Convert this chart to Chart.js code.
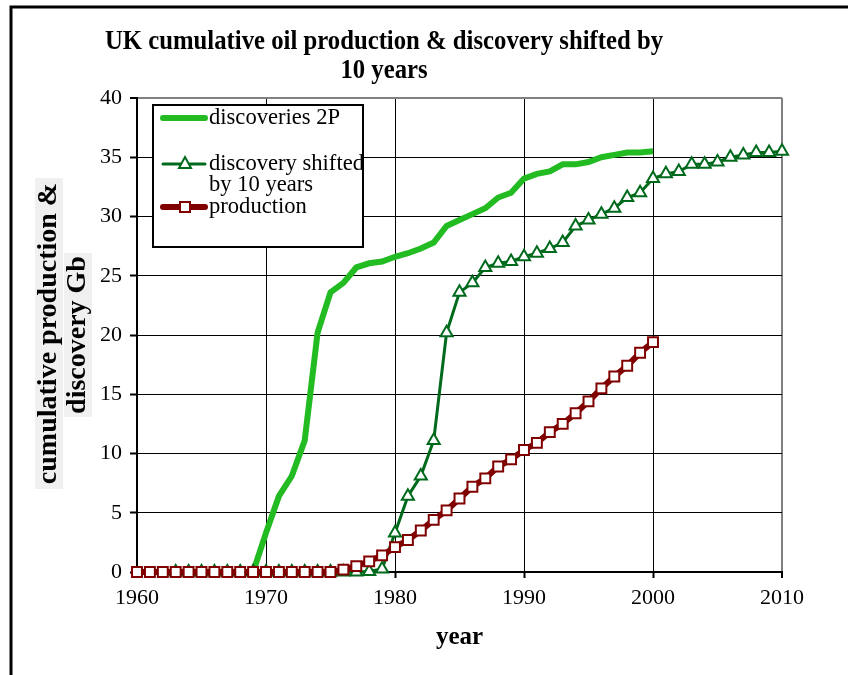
<!DOCTYPE html>
<html>
<head>
<meta charset="utf-8">
<title>UK cumulative oil production & discovery</title>
<script src="https://cdn.jsdelivr.net/npm/chart.js@4.4.0/dist/chart.umd.min.js"></script>
<style>
  body { margin: 0; background: #fff; }
</style>
</head>
<body>
<canvas id="oilChart" width="848" height="675"></canvas>
<script>
// cumulative values in Gb, one value per year starting at the given year
const productionStart = 1960;
const production = [
  0, 0, 0, 0, 0, 0, 0, 0, 0, 0, 0, 0, 0, 0, 0, 0,
  0.2, 0.5, 0.9, 1.4,
  2.1, 2.7, 3.5, 4.4, 5.2, 6.2, 7.2, 7.9, 8.9, 9.5,
  10.3, 10.9, 11.8, 12.5, 13.4, 14.4, 15.5, 16.5, 17.4, 18.5,
  19.4
];

const discoveryStart = 1969;
const discoveries2P = [
  0,
  3.3, 6.4, 8.1, 11.1, 20.2, 23.6, 24.4, 25.7, 26.05, 26.2,
  26.6, 26.9, 27.3, 27.8, 29.2, 29.7, 30.2, 30.7, 31.6, 32.0,
  33.2, 33.6, 33.8, 34.4, 34.4, 34.6, 35.0, 35.2, 35.4, 35.4,
  35.5
];

const shiftedStart = 1963;
const discoveryShifted = [
  0, 0, 0, 0, 0, 0, 0, 0, 0, 0, 0, 0, 0, 0, 0, 0.05, 0.25,
  3.3, 6.4, 8.1, 11.1, 20.2, 23.6, 24.4, 25.7, 26.05, 26.2,
  26.6, 26.9, 27.3, 27.8, 29.2, 29.7, 30.2, 30.7, 31.6, 32.0,
  33.2, 33.6, 33.8, 34.4, 34.4, 34.6, 35.0, 35.2, 35.4, 35.4,
  35.5
];

const seriesNames = ['discoveries 2P', 'discovery shifted', 'by 10 years', 'production'];
const titleLines = ['UK cumulative oil production & discovery shifted by', '10 years'];
const yTitleLines = ['cumulative production &', 'discovery Gb'];

const LIGHT_GREEN = '#22bb22';
const DARK_GREEN = '#006a1c';
const DARK_RED = '#800000';

const toPoints = (start, values) => values.map((v, i) => ({ x: start + i, y: v }));

const SERIF = "'Liberation Serif', 'Times New Roman', serif";
Chart.defaults.font.family = SERIF;
Chart.defaults.color = '#000';

// draws the frame, title, y axis label and the boxed legend
const decorPlugin = {
  id: 'decor',
  beforeDraw(chart) {
    const ctx = chart.ctx;
    ctx.save();
    ctx.fillStyle = '#fff';
    ctx.fillRect(0, 0, chart.width, chart.height);

    ctx.strokeStyle = '#000';
    ctx.lineWidth = 3;
    ctx.beginPath();
    ctx.moveTo(11, chart.height);
    ctx.lineTo(11, 7);
    ctx.lineTo(chart.width, 7);
    ctx.stroke();

    // title, slightly condensed like the original
    ctx.fillStyle = '#000';
    ctx.font = 'bold 27px ' + SERIF;
    ctx.textAlign = 'center';
    ctx.textBaseline = 'alphabetic';
    const sx = 558 / ctx.measureText(titleLines[0]).width;
    [[titleLines[0], 49], [titleLines[1], 78]].forEach(([txt, y]) => {
      ctx.save();
      ctx.translate(384, y);
      ctx.scale(sx, 1);
      ctx.fillText(txt, 0, 0);
      ctx.restore();
    });

    // rotated y title with grey backing
    ctx.font = 'bold 28px ' + SERIF;
    [[yTitleLines[0], 56, 333.5, 311], [yTitleLines[1], 85, 335, 164]].forEach(([txt, x, y, len]) => {
      ctx.save();
      ctx.translate(x, y);
      ctx.rotate(-Math.PI / 2);
      ctx.fillStyle = '#f0f0f0';
      ctx.fillRect(-len / 2, -21, len, 28);
      ctx.fillStyle = '#000';
      ctx.fillText(txt, 0, 0);
      ctx.restore();
    });
    ctx.restore();
  },
  afterDraw(chart) {
    const ctx = chart.ctx;
    const box = { x: 153, y: 105, w: 210, h: 142 };
    ctx.save();
    ctx.fillStyle = '#fff';
    ctx.fillRect(box.x, box.y, box.w, box.h);
    ctx.strokeStyle = '#000';
    ctx.lineWidth = 2;
    ctx.strokeRect(box.x, box.y, box.w, box.h);

    const sample = (y, color, width) => {
      ctx.strokeStyle = color;
      ctx.lineWidth = width;
      ctx.lineCap = 'round';
      ctx.beginPath();
      ctx.moveTo(163, y);
      ctx.lineTo(205, y);
      ctx.stroke();
    };
    sample(118, LIGHT_GREEN, 6);
    sample(164, DARK_GREEN, 3);
    ctx.lineCap = 'butt';
    ctx.fillStyle = '#fff';
    ctx.strokeStyle = DARK_GREEN;
    ctx.lineWidth = 2;
    ctx.beginPath();
    ctx.moveTo(185, 157);
    ctx.lineTo(191, 168);
    ctx.lineTo(179, 168);
    ctx.closePath();
    ctx.fill();
    ctx.stroke();
    sample(207, DARK_RED, 6);
    ctx.lineCap = 'butt';
    ctx.fillStyle = '#fff';
    ctx.strokeStyle = DARK_RED;
    ctx.lineWidth = 2;
    ctx.fillRect(180, 202, 10, 10);
    ctx.strokeRect(180, 202, 10, 10);

    ctx.beginPath();
    ctx.rect(box.x + 1, box.y + 1, box.w - 2, box.h - 2);
    ctx.clip();
    ctx.fillStyle = '#000';
    ctx.font = '22.6px ' + SERIF;
    ctx.textAlign = 'left';
    ctx.textBaseline = 'alphabetic';
    ctx.fillText(seriesNames[0], 209, 124);
    ctx.fillText(seriesNames[1], 209, 170);
    ctx.fillText(seriesNames[2], 209, 191);
    ctx.fillText(seriesNames[3], 209, 213);
    ctx.restore();
  }
};

const edgeColor = (edge) => (c) => (c.tick && c.tick.value === edge ? '#808080' : '#000');
const edgeWidth = (edge) => (c) => (c.tick && c.tick.value === edge ? 2 : 1);

new Chart(document.getElementById('oilChart'), {
  type: 'line',
  data: {
    datasets: [
      {
        label: seriesNames[0],
        data: toPoints(discoveryStart, discoveries2P),
        borderColor: LIGHT_GREEN,
        borderWidth: 6,
        pointRadius: 0,
        tension: 0,
        clip: false,
        order: 3
      },
      {
        label: seriesNames[1] + ' ' + seriesNames[2],
        data: toPoints(shiftedStart, discoveryShifted),
        borderColor: DARK_GREEN,
        borderWidth: 3,
        pointStyle: 'triangle',
        pointRadius: 7,
        pointBackgroundColor: '#fff',
        pointBorderColor: DARK_GREEN,
        pointBorderWidth: 2,
        tension: 0,
        clip: false,
        order: 2
      },
      {
        label: seriesNames[3],
        data: toPoints(productionStart, production),
        borderColor: DARK_RED,
        borderWidth: 6,
        pointStyle: 'rect',
        pointRadius: 7,
        pointBackgroundColor: '#fff',
        pointBorderColor: DARK_RED,
        pointBorderWidth: 2,
        tension: 0,
        clip: false,
        order: 1
      }
    ]
  },
  options: {
    responsive: false,
    devicePixelRatio: 1,
    animation: false,
    events: [],
    layout: { padding: { left: 0, right: 66, top: 98, bottom: 0 } },
    plugins: {
      legend: { display: false },
      tooltip: { enabled: false },
      title: { display: false }
    },
    scales: {
      x: {
        type: 'linear',
        min: 1960,
        max: 2010,
        afterFit: (scale) => { scale.height = 103; },
        ticks: {
          stepSize: 10,
          padding: 7,
          font: { size: 22 },
          color: '#000',
          callback: (v) => String(v)
        },
        grid: {
          color: edgeColor(2010),
          lineWidth: edgeWidth(2010),
          tickColor: '#000',
          tickLength: 6,
          tickWidth: 2
        },
        border: { color: '#000', width: 2 },
        title: {
          display: true,
          text: 'year',
          font: { size: 25, weight: 'bold' },
          color: '#000',
          padding: { top: 0, bottom: 22 }
        }
      },
      y: {
        min: 0,
        max: 40,
        afterFit: (scale) => { scale.width = 137; },
        ticks: {
          stepSize: 5,
          padding: 8,
          font: { size: 22 },
          color: '#000'
        },
        grid: {
          color: edgeColor(40),
          lineWidth: edgeWidth(40),
          tickColor: '#000',
          tickLength: 7,
          tickWidth: 2
        },
        border: { color: '#000', width: 2 }
      }
    }
  },
  plugins: [decorPlugin]
});
</script>
</body>
</html>
